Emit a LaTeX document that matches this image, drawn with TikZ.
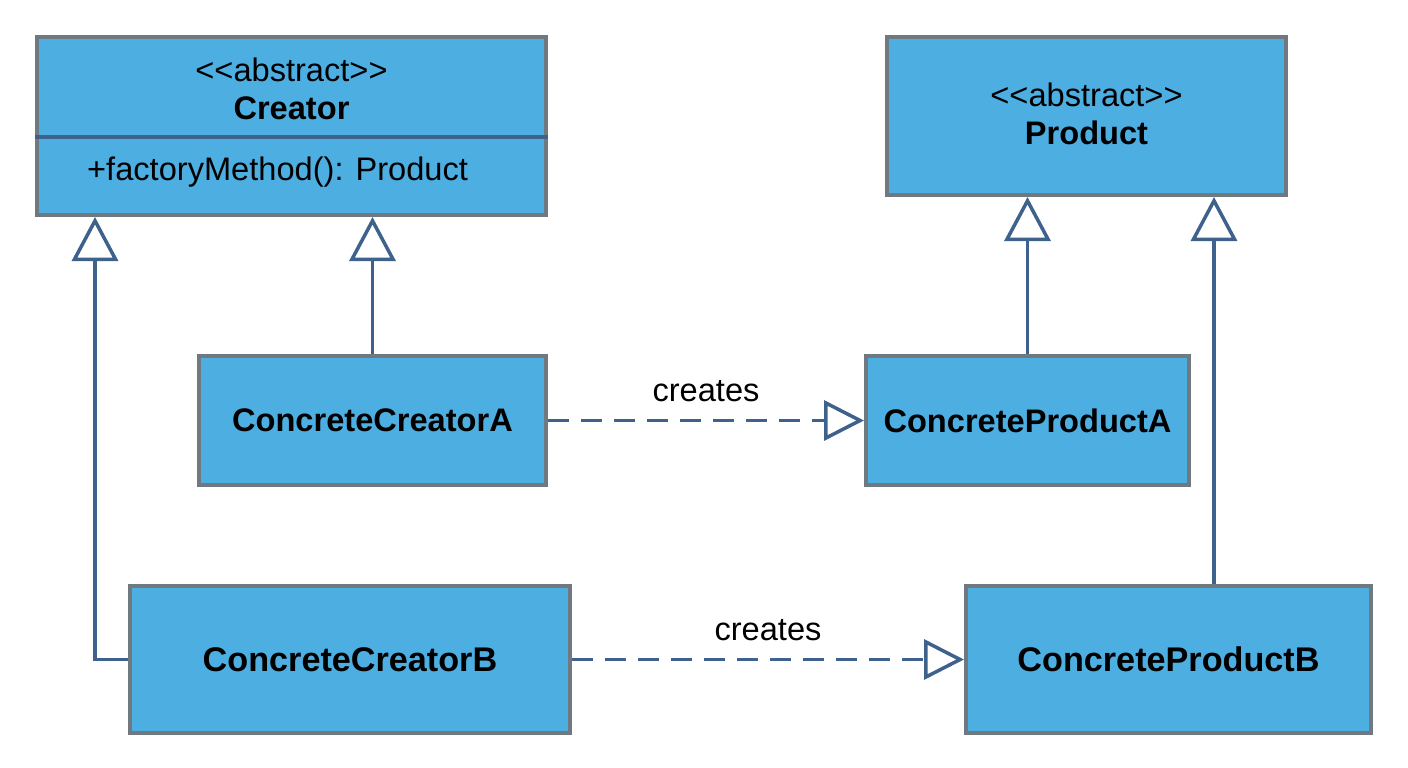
\documentclass[tikz,border=0pt]{standalone}
\usepackage{fontspec}
\setmainfont{Liberation Sans}
\usetikzlibrary{arrows.meta,calc}
\definecolor{boxfill}{RGB}{77,174,226}
\definecolor{boxedge}{RGB}{112,120,128}
\definecolor{linecol}{RGB}{62,98,140}
\newcommand{\stereo}[1]{<\kern0pt<#1>\kern0pt>}
\begin{document}
\begin{tikzpicture}[x=1pt,y=-1pt,
  cls/.style={draw=boxedge,fill=boxfill,line width=4pt,rectangle,inner sep=0pt},
  txt/.style={font=\fontsize{32.6}{39}\selectfont,text=black,inner sep=0pt},
  btxt/.style={font=\fontsize{32.6}{39}\selectfont\bfseries,text=black,inner sep=0pt},
  bbtxt/.style={font=\fontsize{34.2}{41}\selectfont\bfseries,text=black,inner sep=0pt},
  gen/.style={draw=linecol,line width=3.5pt,-{Triangle[open,width=46pt,length=44pt,line width=3.5pt,fill=white]}},
  dep/.style={draw=linecol,line width=3.5pt,dash pattern=on 21pt off 12pt,-{Triangle[open,width=40pt,length=40pt,line width=3.5pt,fill=white]}}
]
\useasboundingbox (0,0) rectangle (1408,768);
\fill[white] (0,0) rectangle (1408,768);

% boxes
\node[cls,minimum width=509pt,minimum height=178pt] (Creator) at (291.5,126) {};
\node[cls,minimum width=399pt,minimum height=158pt] (Product) at (1086.5,116) {};
\node[cls,minimum width=347pt,minimum height=129pt] (CCA) at (372.5,420.5) {};
\node[cls,minimum width=323pt,minimum height=129pt] (CPA) at (1027.5,420.5) {};
\node[cls,minimum width=440pt,minimum height=147pt] (CCB) at (350,659.5) {};
\node[cls,minimum width=405pt,minimum height=147pt] (CPB) at (1168.5,659.5) {};

% divider in Creator
\draw[linecol,line width=3.5pt] (Creator.west |- {(0,137)}) -- (Creator.east |- {(0,137)});

% texts
\node[txt] (crst) at (291.5,70) {\stereo{abstract}};
\node[btxt] (crname) at (291.5,108) {Creator};
\node[txt,anchor=west] (crop) at (87,172) {+factoryMethod(): Product};
\node[txt] (prst) at (1086.5,95) {\stereo{abstract}};
\node[btxt] (prname) at (1086.5,133) {Product};
\node[btxt] (ccat) at (CCA.center) {ConcreteCreatorA};
\node[btxt] (cpat) at (CPA.center) {ConcreteProductA};
\node[bbtxt] (ccbt) at (CCB.center) {ConcreteCreatorB};
\node[bbtxt] (cpbt) at (CPB.center) {ConcreteProductB};

% generalizations
\draw[gen] (CCB.west) -| ($(Creator.south west)+(60,0)$);
\draw[gen] (CCA.north) -- (CCA.north |- Creator.south);
\draw[gen] (CPA.north) -- (CPA.north |- Product.south);
\draw[gen] ($(CPB.north)+(45.5,0)$) -- ($(Product.south)+(127.5,0)$);

% dependencies
\draw[dep] (CCA.east) -- node[txt,above=17pt] (la) {creates} (CPA.west);
\draw[dep] (CCB.east) -- node[txt,above=17pt] (lb) {creates} (CPB.west);
\end{tikzpicture}
\end{document}
